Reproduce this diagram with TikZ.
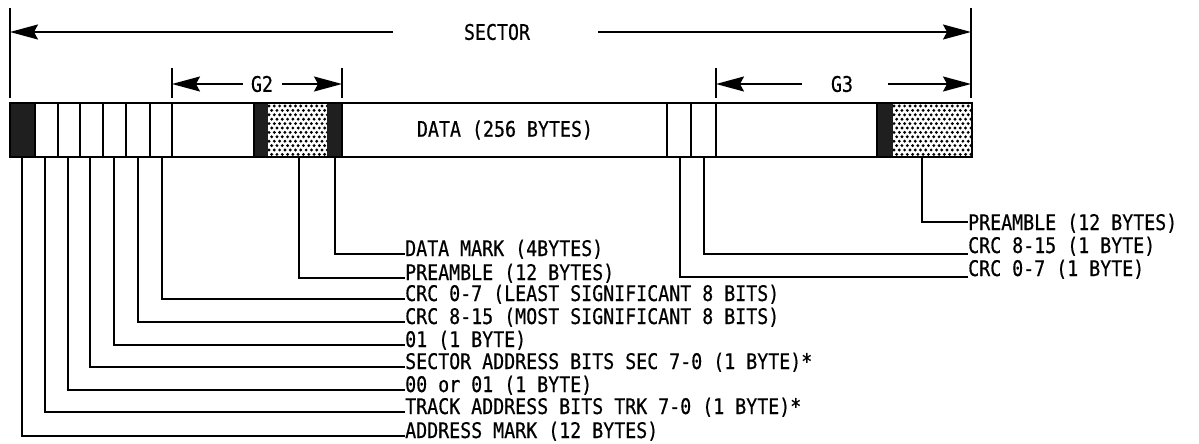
\documentclass[tikz,border=0pt]{standalone}
\usepackage{fontspec}
\newfontfamily\lbl[FakeStretch=0.85,FakeBold=0.5]{DejaVu Sans Mono}
\usetikzlibrary{arrows.meta}
\begin{document}
\begin{tikzpicture}[x=1pt,y=-1pt,
  ln/.style={line width=1.8pt},
  dim/.style={line width=1.6pt},
  dimarrow/.style={line width=1.6pt,-{Stealth[length=28pt,width=15pt,inset=4pt]}},
  txt/.style={font=\lbl\fontsize{21.5}{23}\selectfont, inner sep=0pt},
  lab/.style={txt, anchor=base west},
  dark/.style={fill=black!88},
  dot/.style={fill=black}]
\useasboundingbox (0,0) rectangle (1199,444);

% ---------- SECTOR dimension ----------
\draw[dim] (10,8) -- (10,98);
\draw[dim] (971,8) -- (971,98);
\coordinate (secL) at (10,32);
\coordinate (secR) at (971,32);
\coordinate (secLs) at (393,32);
\coordinate (secRs) at (598,32);
\node[txt] (sector) at (497,32) {SECTOR};
\draw[dimarrow] (secLs) -- (secL);
\draw[dimarrow] (secRs) -- (secR);

% ---------- G2 dimension ----------
\draw[dim] (172,68) -- (172,98);
\draw[dim] (342,68) -- (342,98);
\coordinate (g2L) at (172,84);
\coordinate (g2R) at (342,84);
\coordinate (g2Ls) at (243,84);
\coordinate (g2Rs) at (282,84);
\node[txt] (g2) at (262,84) {G2};
\draw[dimarrow] (g2Ls) -- (g2L);
\draw[dimarrow] (g2Rs) -- (g2R);

% ---------- G3 dimension ----------
\draw[dim] (716,68) -- (716,98);
\draw[dim] (971,68) -- (971,98);
\coordinate (g3L) at (716,84);
\coordinate (g3R) at (971,84);
\coordinate (g3Ls) at (802,84);
\coordinate (g3Rs) at (888,84);
\node[txt] (g3) at (842,84) {G3};
\draw[dimarrow] (g3Ls) -- (g3L);
\draw[dimarrow] (g3Rs) -- (g3R);

% ---------- bar ----------
\fill[dark] (10,103) rectangle (35,157);
\fill[dark] (254,103) rectangle (268,157);
\fill[dark] (327,103) rectangle (342,157);
\fill[dark] (877,103) rectangle (893,157);
% dotted areas
\begin{scope}
\clip (268,104) rectangle (327,156);
\foreach \r in {0,...,12}{
  \foreach \c in {0,...,12}{
    \pgfmathsetmacro{\dx}{269+\c*5.3+mod(\r,2)*2.65}
    \pgfmathsetmacro{\dy}{106+\r*4.4}
    \fill[dot] (\dx,\dy) circle (1.6pt);
  }
}
\end{scope}
\begin{scope}
\clip (893,104) rectangle (971,156);
\foreach \r in {0,...,12}{
  \foreach \c in {0,...,16}{
    \pgfmathsetmacro{\dx}{894+\c*5.3+mod(\r,2)*2.65}
    \pgfmathsetmacro{\dy}{106+\r*4.4}
    \fill[dot] (\dx,\dy) circle (1.6pt);
  }
}
\end{scope}
\draw[ln] (10,103) rectangle (972,157);
\foreach \xx in {35,58,80,103,126,150,172,254,342,667,691,716,877}{
  \draw[ln] (\xx,103) -- (\xx,157);
}
\node[txt] (data) at (505,130) {DATA (256 BYTES)};

% ---------- leaders, left group ----------
\foreach \n/\xx/\yy/\t in {
  a/22/436/{ADDRESS MARK (12 BYTES)},
  b/45/412/{TRACK ADDRESS BITS TRK 7-0 (1 BYTE)*},
  c/68/390/{00 or 01 (1 BYTE)},
  d/90/367/{SECTOR ADDRESS BITS SEC 7-0 (1 BYTE)*},
  e/114/345/{01 (1 BYTE)},
  f/138/322/{CRC 8-15 (MOST SIGNIFICANT 8 BITS)},
  g/162/299/{CRC 0-7 (LEAST SIGNIFICANT 8 BITS)},
  h/299/278/{PREAMBLE (12 BYTES)},
  i/335/254/{DATA MARK (4BYTES)}}{
  \coordinate (s\n) at (\xx,157);
  \coordinate (e\n) at (405,\yy);
  \node[lab] (l\n) at ([yshift=-2pt]e\n) {\t};
  \draw[ln] (s\n) |- (e\n);
}

% ---------- leaders, right group ----------
\foreach \n/\xx/\yy/\by/\t in {
  j/680/277/276/{CRC 0-7 (1 BYTE)},
  k/704/254/253/{CRC 8-15 (1 BYTE)},
  m/922/222/230/{PREAMBLE (12 BYTES)}}{
  \coordinate (s\n) at (\xx,157);
  \coordinate (e\n) at (968,\yy);
  \node[lab] (l\n) at (968,\by) {\t};
  \draw[ln] (s\n) |- (e\n);
}
\end{tikzpicture}
\end{document}
